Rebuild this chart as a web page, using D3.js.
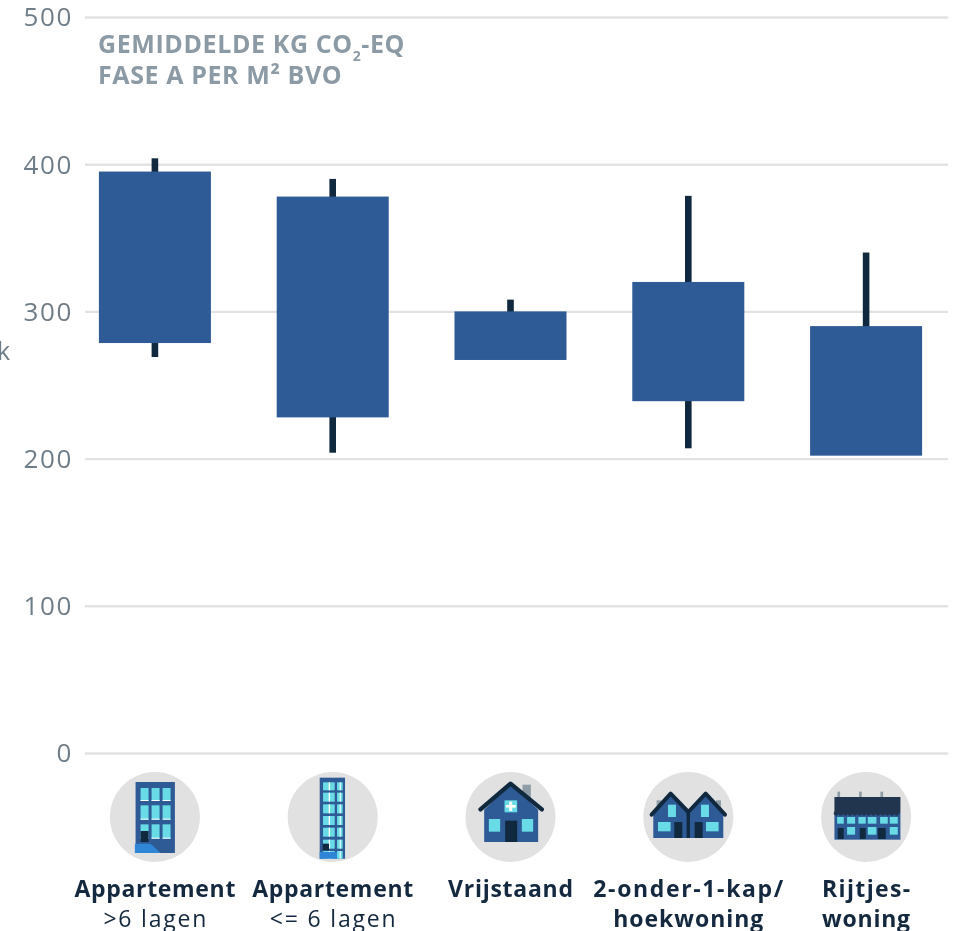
<!DOCTYPE html>
<html><head><meta charset="utf-8">
<script src="https://cdn.jsdelivr.net/npm/d3@7"></script>
<style>html,body{margin:0;padding:0;background:#fff}svg{display:block;filter:blur(0.45px)}</style>
</head><body><svg id="c" width="959" height="931"></svg>
<script>
const categories = ["Appartement >6","Appartement <=6","Vrijstaand","2-onder-1-kap","Rijtjeswoning"];
const labelLine1 = ["Appartement","Appartement","Vrijstaand","2-onder-1-kap/","Rijtjes-"];
const labelLine2 = [">6 lagen","<= 6 lagen","","hoekwoning","woning"];
const line2Bold = [false,false,false,true,true];
const boxTop = [395,378,300,320,290];
const boxBottom = [278.5,228,267,239,202];
const whiskerTop = [404,390,308,378.5,340];
const whiskerBottom = [269,204,268,207,203];
const yTicks = [0,100,200,300,400,500];
const FONT = "'Open Sans', sans-serif";

const svg = d3.select("#c");
const y = d3.scaleLinear().domain([0,500]).range([753,17]);
const x = d3.scaleBand().domain(categories).range([66,955]).paddingInner(.37).paddingOuter(.185);
const BLUE="#2e5a96", DARK="#10293f", CYAN="#68dbe6", GREY="#e1e1e1", LIGHT="#2f86d6", ASH="#8e9ca6";

const ax = svg.append("g").attr("transform","translate(85,0)")
  .call(d3.axisLeft(y).tickValues(yTicks).tickSize(-863).tickPadding(12));
ax.select(".domain").remove();
ax.selectAll("line").attr("stroke","#e2e2e2").attr("stroke-width",2.4);
ax.selectAll("text").attr("fill","#6f7d88").style("font","26px "+FONT).style("letter-spacing","1.6px").attr("dy","0.34em");

svg.append("text").attr("x",-3).attr("y",360).attr("fill","#6f7d88").style("font","25px "+FONT).text("k");

const title = svg.append("g").attr("fill","#8c9aa5").style("font","700 25px "+FONT).style("letter-spacing","0.6px");
const t1 = title.append("text").attr("x",98).attr("y",53);
t1.append("tspan").text("GEMIDDELDE KG CO");
t1.append("tspan").attr("dy",8).style("font-size","14px").text("2");
t1.append("tspan").attr("dy",-8).text("-EQ");
title.append("text").attr("x",98).attr("y",84).text("FASE A PER M² BVO");

const rows = categories.map((c,i)=>({c,i}));
svg.append("g").selectAll("rect").data(rows).join("rect")
  .attr("x",d=>x(d.c)+x.bandwidth()/2-3.3).attr("width",6.6)
  .attr("y",d=>y(whiskerTop[d.i])).attr("height",d=>y(whiskerBottom[d.i])-y(whiskerTop[d.i]))
  .attr("fill",DARK);
svg.append("g").selectAll("rect").data(rows).join("rect")
  .attr("x",d=>x(d.c)).attr("width",x.bandwidth())
  .attr("y",d=>y(boxTop[d.i])).attr("height",d=>y(boxBottom[d.i])-y(boxTop[d.i]))
  .attr("fill",BLUE);

// icon helpers: coordinates are in 3x zoom units relative to the circle centre
function R(g,x0,x1,y0,y1,f){g.append("rect").attr("x",x0).attr("y",y0).attr("width",x1-x0).attr("height",y1-y0).attr("fill",f);}
function P(g,pts,f){g.append("polygon").attr("points",pts.map(p=>p.join(",")).join(" ")).attr("fill",f);}
function L(g,pts,s,w){g.append("polyline").attr("points",pts.map(p=>p.join(",")).join(" ")).attr("fill","none")
  .attr("stroke",s).attr("stroke-width",w).attr("stroke-linejoin","round").attr("stroke-linecap","round");}
const icons = [
 g=>{ R(g,-58,60,-105,108,BLUE);
   for(const a of [-43,-10,23]) for(const [b,c] of [[-87,-48],[-35,8],[22,65]]) { R(g,a,a+24,b,c,CYAN); R(g,a,a+24,c-3,c,"#fff"); }
   R(g,-43,-19,42,75,DARK);
   P(g,[[-60,80],[-13,80],[17,108],[-60,108]],LIGHT);
 },
 g=>{ R(g,-39,37,-118,125,BLUE);
   for(const [b,c] of [[-104,-80],[-73,-46],[-38,-11],[-3,24],[32,59],[68,95],[102,125]]) {
     R(g,-29,6,b,c,CYAN); R(g,-12,-8,b,c,"#fff"); R(g,13,30,b,c,CYAN); R(g,21,24,b,c,"#fff");
   }
   R(g,-30,-11,80,100,DARK);
   R(g,-39,13,105,125,LIGHT);
 },
 g=>{ R(g,36,61,-97,-50,ASH);
   P(g,[[0,-100],[-79,-22],[-79,75],[83,75],[83,-22]],BLUE);
   L(g,[[-90,-23],[0,-100],[94,-23]],DARK,13);
   R(g,-18,20,-50,-14,CYAN); R(g,-4,5,-46,-18,"#fff"); R(g,-14,16,-36,-28,"#fff");
   R(g,-65,-31,6,44,CYAN); R(g,34,68,6,44,CYAN);
   R(g,-16,20,11,75,DARK);
 },
 g=>{ R(g,-95,-80,-50,-22,ASH); R(g,83,98,-50,-22,ASH);
   P(g,[[-53,-72],[-105,-10],[-105,63],[105,63],[105,-10],[52,-72],[0,-17]],BLUE);
   L(g,[[-110,-7],[-53,-70],[0,-15],[52,-70],[110,-7]],DARK,12);
   R(g,-61,-37,-37,0,CYAN); R(g,38,62,-37,0,CYAN);
   R(g,-91,-53,15,43,CYAN); R(g,53,91,15,43,CYAN);
   R(g,-42,-18,15,63,DARK); R(g,19,43,15,63,DARK);
   R(g,-5,5,-15,63,DARK);
 },
 g=>{ for(const a of [-82,-17,47]) R(g,a-4,a+4,-76,-60,ASH);
   R(g,-95,103,-12,68,BLUE);
   R(g,-95,103,-60,-12,"#21354f");
   for(let a=-90;a<=98;a+=14) g.append("circle").attr("cx",a).attr("cy",-11).attr("r",7).attr("fill","#21354f");
   for(const [a,b] of [[-87,-67],[-57,-33],[-23,-1],[5,31],[42,65],[71,95]]) R(g,a,b,0,20,CYAN);
   for(const [a,b] of [[-57,-33],[5,31],[71,95]]) R(g,a,b,30,53,CYAN);
   for(const [a,b] of [[-85,-67],[-19,-1],[35,59]]) R(g,a,b,33,66,DARK);
 }
];
// rendered widths of the two label lines, matching the reference's wider typeface
const line1Width = [161,161,125,190,88];
const line2Width = [103,126,0,150,88];
rows.forEach(d=>{
  const cx = x(d.c)+x.bandwidth()/2;
  svg.append("circle").attr("cx",cx).attr("cy",817).attr("r",45).attr("fill",GREY);
  const g = svg.append("g").attr("transform",`translate(${cx},817) scale(${1/3})`);
  icons[d.i](g);
  svg.append("text").attr("x",cx).attr("y",897).attr("text-anchor","middle").attr("fill","#14283f")
    .attr("textLength",line1Width[d.i]).attr("lengthAdjust","spacing")
    .style("font","700 23px "+FONT).text(labelLine1[d.i]);
  if(labelLine2[d.i]) svg.append("text").attr("x",cx).attr("y",927).attr("text-anchor","middle").attr("fill","#14283f")
    .attr("textLength",line2Width[d.i]).attr("lengthAdjust","spacing")
    .style("font",(line2Bold[d.i]?"700 ":"400 ")+"23px "+FONT).text(labelLine2[d.i]);
});
</script></body></html>
